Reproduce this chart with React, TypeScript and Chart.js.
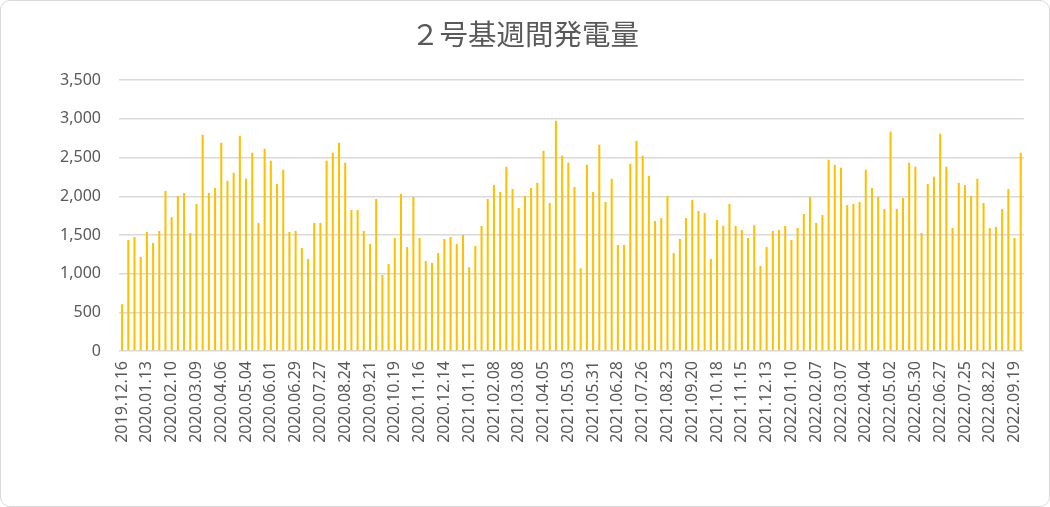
import { useEffect, useRef } from "react";
import { Chart, registerables, type ChartConfiguration } from "chart.js";

Chart.register(...registerables);

const TITLE = "２号基週間発電量";
const START_DATE = "2019-12-16";
const LABEL_EVERY = 4;

// weekly generation
const weeklyOutput = [
  605, 1434, 1473, 1214, 1538, 1395, 1551, 2069, 1732, 2004,
  2043, 1525, 1901, 2795, 2043, 2108, 2691, 2199, 2303, 2782,
  2225, 2562, 1655, 2614, 2458, 2160, 2341, 1538, 1551, 1331,
  1188, 1655, 1655, 2458, 2562, 2691, 2432, 1823, 1823, 1551,
  1382, 1966, 981, 1123, 1460, 2030, 1344, 1992, 1460, 1162,
  1136, 1266, 1447, 1473, 1382, 1499, 1084, 1356, 1616, 1966,
  2147, 2056, 2380, 2095, 1849, 2004, 2108, 2173, 2588, 1914,
  2976, 2523, 2432, 2121, 1071, 2406, 2056, 2665, 1927, 2225,
  1369, 1369, 2419, 2717, 2523, 2264, 1680, 1719, 2004, 1266,
  1447, 1719, 1953, 1810, 1784, 1188, 1693, 1616, 1901, 1616,
  1564, 1460, 1629, 1097, 1344, 1551, 1564, 1616, 1434, 1590,
  1771, 1992, 1655, 1758, 2471, 2406, 2367, 1888, 1901, 1927,
  2341, 2108, 1992, 1836, 2834, 1836, 1979, 2432, 2380, 1525,
  2160, 2251, 2808, 2380, 1590, 2173, 2147, 2004, 2225, 1914,
  1590, 1603, 1836, 2095, 1460, 2562,
];

const Y_MAX = 3500;
const Y_STEP = 500;

function weekLabels(start: string, count: number): string[] {
  const base = new Date(start + "T00:00:00Z").getTime();
  const out: string[] = [];
  for (let i = 0; i < count; i++) {
    const d = new Date(base + i * 7 * 86400000);
    const mm = String(d.getUTCMonth() + 1).padStart(2, "0");
    const dd = String(d.getUTCDate()).padStart(2, "0");
    out.push(`${d.getUTCFullYear()}.${mm}.${dd}`);
  }
  return out;
}

const categories = weekLabels(START_DATE, weeklyOutput.length);

const TEXT = "#595959";
const GRID = "#D9D9D9";
const FONT = "'Noto Sans', 'Noto Sans CJK JP', sans-serif";

function WeeklyChart() {
  const canvasRef = useRef<HTMLCanvasElement>(null);
  const chartRef = useRef<Chart | null>(null);

  useEffect(() => {
    if (!canvasRef.current) return;
    const ctx = canvasRef.current.getContext("2d");
    if (!ctx) return;

    if (chartRef.current) chartRef.current.destroy();

    const config: ChartConfiguration<"bar"> = {
      type: "bar",
      data: {
        labels: categories,
        datasets: [
          {
            data: weeklyOutput,
            backgroundColor: "#FFC000",
            borderWidth: 0,
            barPercentage: 0.33,
            categoryPercentage: 1,
          },
        ],
      },
      options: {
        animation: false,
        responsive: false,
        maintainAspectRatio: false,
        // symmetric side padding keeps the title centred on the canvas
        layout: { padding: { left: 23, right: 23, top: 0, bottom: 0 } },
        plugins: {
          legend: { display: false },
          tooltip: { enabled: false },
          title: {
            display: true,
            text: TITLE,
            color: TEXT,
            font: { family: "'Noto Sans CJK JP', sans-serif", size: 28.5, weight: "normal" },
            padding: { top: 17, bottom: 29 },
          },
        },
        scales: {
          x: {
            grid: { display: false, drawTicks: false },
            border: { display: false },
            ticks: {
              autoSkip: false,
              maxRotation: 90,
              minRotation: 90,
              padding: 10,
              color: TEXT,
              font: { family: FONT, size: 16 },
              callback: (_v, i) => (i % LABEL_EVERY === 0 ? categories[i] : ""),
            },
            afterFit: (s) => {
              s.height = 156;
            },
          },
          y: {
            min: 0,
            max: Y_MAX,
            grid: { color: GRID, lineWidth: 1.5, drawTicks: false },
            border: { display: false },
            ticks: {
              stepSize: Y_STEP,
              padding: 18,
              color: TEXT,
              font: { family: FONT, size: 16 },
              callback: (v) => Number(v).toLocaleString("en-US"),
            },
            afterFit: (s) => {
              s.width = 96;
            },
          },
        },
      },
    };

    chartRef.current = new Chart(ctx, config);

    return () => {
      if (chartRef.current) {
        chartRef.current.destroy();
        chartRef.current = null;
      }
    };
  }, []);

  return <canvas ref={canvasRef} width={1050} height={507} />;
}

export default function App() {
  return (
    <div
      style={{
        position: "fixed",
        left: 0,
        top: 0,
        width: 1050,
        height: 507,
        background: "#fff",
      }}
    >
      <WeeklyChart />
      <div
        style={{
          position: "absolute",
          inset: 0,
          border: "1px solid #D9D9D9",
          borderRadius: 10,
          boxSizing: "border-box",
          pointerEvents: "none",
        }}
      />
    </div>
  );
}
